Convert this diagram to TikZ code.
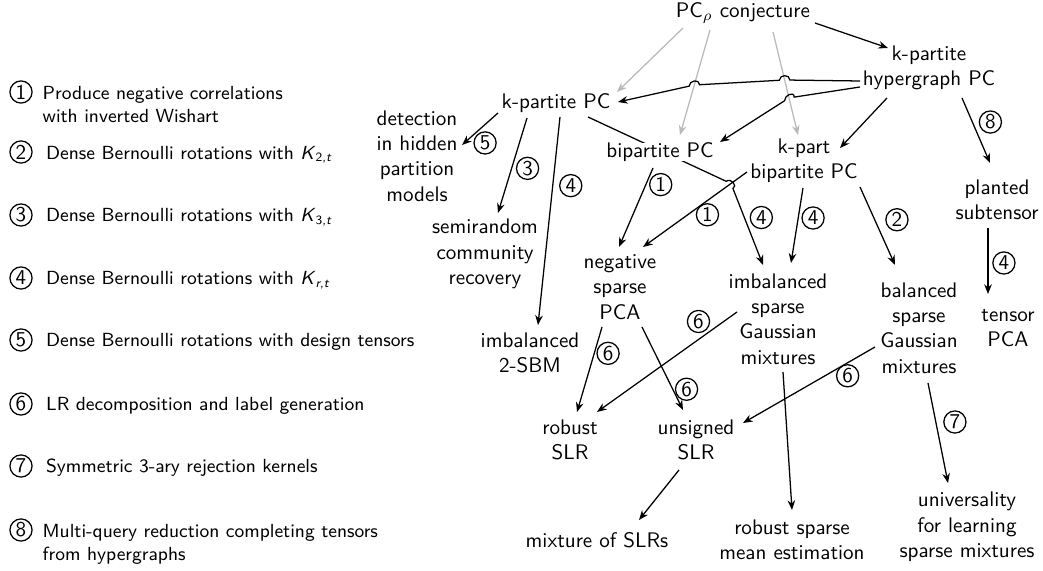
\documentclass[tikz,border=0pt]{standalone}
\usetikzlibrary{positioning,arrows.meta,calc,backgrounds}
\tikzset{
  prob/.style={align=center, font=\sffamily, inner sep=1pt},
  num/.style={circle, draw, semithick, inner sep=0.3pt, minimum size=10.5pt, font=\sffamily},
  leg/.style={align=left, font=\sffamily\small, inner sep=0pt},
  edge/.style={-{Stealth[length=4.6pt, width=3.6pt]}, semithick},
  gedge/.style={edge, gray!55}
}
\newcommand{\Kst}[1]{\textit{K}\textsubscript{#1,\textit{t}}}
\begin{document}
\begin{tikzpicture}[x=0.01667cm, y=-0.01667cm]
\useasboundingbox (0,0) rectangle (1043,571);

% legend
\node[num] (l1) at (21,92) {1};
\node[leg, anchor=north west] (t1) at ($(l1.north east)+(13,2)$) {Produce negative correlations\\with inverted Wishart};
\node[num] (l2) at (21,152) {2};
\node[leg, anchor=base west] (t2) at ($(l2.base east)+(13,0)$) {Dense Bernoulli rotations with \Kst{2}};
\node[num] (l3) at (21,215) {3};
\node[leg, anchor=base west] (t3) at ($(l3.base east)+(13,0)$) {Dense Bernoulli rotations with \Kst{3}};
\node[num] (l4) at (21,278) {4};
\node[leg, anchor=base west] (t4) at ($(l4.base east)+(13,0)$) {Dense Bernoulli rotations with \Kst{\textit{r}}};
\node[num] (l5) at (21,340) {5};
\node[leg, anchor=base west] (t5) at ($(l5.base east)+(13,0)$) {Dense Bernoulli rotations with design tensors};
\node[num] (l6) at (21,404) {6};
\node[leg, anchor=base west] (t6) at ($(l6.base east)+(13,0)$) {LR decomposition and label generation};
\node[num] (l7) at (21,466) {7};
\node[leg, anchor=base west] (t7) at ($(l7.base east)+(13,0)$) {Symmetric 3-ary rejection kernels};
\node[num] (l8) at (21,530) {8};
\node[leg, anchor=north west] (t8) at ($(l8.north east)+(13,2)$) {Multi-query reduction completing tensors\\from hypergraphs};

% problems
\node[prob] (pcrho) at (743,13) {PC$_\rho$ conjecture};
\node[prob] (khyp) at (929,68) {k-partite\\hypergraph PC};
\node[prob] (kpc) at (556,103) {k-partite PC};
\node[prob] (det) at (417,156) {detection\\in hidden\\partition\\models};
\node[prob, fill=white, inner sep=0pt] (bip) at (660,152) {bipartite PC};
\node[prob] (kpbip) at (804,161) {k-part\\bipartite PC};
\node[prob] (plant) at (997,200) {planted\\subtensor};
\node[prob] (semi) at (485,254) {semirandom\\community\\recovery};
\node[prob] (neg) at (620,287) {negative\\sparse\\PCA};
\node[prob] (imb) at (778,319) {imbalanced\\sparse\\Gaussian\\mixtures};
\node[prob] (bal) at (919,328) {balanced\\sparse\\Gaussian\\mixtures};
\node[prob] (tpca) at (1008,328) {tensor\\PCA};
\node[prob] (sbm) at (530,353) {imbalanced\\2-SBM};
\node[prob] (rslr) at (570,440) {robust\\SLR};
\node[prob] (uslr) at (696,440) {unsigned\\SLR};
\node[prob] (mslr) at (597,540) {mixture of SLRs};
\node[prob] (rsme) at (792,540) {robust sparse\\mean estimation};
\node[prob] (univ) at (967,527) {universality\\for learning\\sparse mixtures};

% gray arrows out of the conjecture
\coordinate (g2s) at ($(pcrho)+(-33,17)$);
\coordinate (g2e) at ($(bip)+(20,-17)$);
\coordinate (g3s) at ($(pcrho)+(30,19)$);
\coordinate (g3e) at ($(kpbip)+(-6,-26)$);
\draw[gedge] ($(pcrho)+(-60,15)$) -- ($(kpc)+(61,-11)$);
\draw[gedge] (g2s) -- (g2e);
\draw[gedge] (g3s) -- (g3e);

% hops over the gray arrows
\coordinate (j1) at ($(g3s)!0.466!(g3e)$);
\coordinate (j2) at ($(g2s)!0.524!(g2e)$);
\coordinate (j3) at ($(g3s)!0.64!(g3e)$);
\coordinate (h1) at ($(khyp)+(-69,13)$);
\coordinate (h2) at ($(khyp)+(-69,19)$);
\coordinate (e1) at ($(kpc)+(62,-1)$);
\coordinate (e2) at ($(bip)+(60,-10)$);

\draw[edge] ($(pcrho)+(72,10)$) -- ($(khyp)+(-41,-20)$);
\draw[edge] (h1) -- ($(j1)!2.5pt!(h1)$) .. controls +(0,-6) and +(0,-6) .. ($(j1)!2.5pt!(j2)$)
  -- ($(j2)!2.5pt!(j1)$) .. controls +(0,-6) and +(0,-6) .. ($(j2)!2.5pt!(e1)$) -- (e1);
\draw[edge] (h2) -- ($(j3)!2.5pt!(h2)$) .. controls +(0,-6) and +(0,-6) .. ($(j3)!2.5pt!(e2)$) -- (e2);
\draw[edge] ($(khyp)+(-42,30)$) -- ($(kpbip)+(36,-13)$);
\draw[edge] ($(khyp)+(33,30)$) -- ($(plant)+(-7,-37)$) node[num, pos=0.37, right=3pt] {8};

\draw[edge] ($(kpc)+(-58,10)$) -- ($(det)+(45,-11)$) node[num, pos=0.63, below right=1pt] {5};
\draw[edge] ($(kpc)+(-29,15)$) -- ($(semi)+(13,-41)$) node[num, pos=0.53, right=2pt] {3};
\draw[edge] ($(kpc)+(4,14)$) -- ($(sbm)+(8,-28)$) node[num, pos=0.33, right=3pt] {4};

\coordinate (b1) at ($(kpbip)+(-57,11)$);
\coordinate (n1) at ($(neg)+(23,-40)$);
\coordinate (kb) at ($(b1)!0.154!(n1)$);
\coordinate (k2) at ($(kpc)+(32,14)$);
\coordinate (i2) at ($(imb)+(-15,-54)$);
\begin{pgfonlayer}{background}
\draw[edge] (k2) -- ($(kb)!2.5pt!(k2)$) .. controls +(5,-4) and +(5,-2) .. ($(kb)!2.5pt!(i2)$)
  -- (i2) node[num, pos=0.38, right=2.5pt] {4};
\end{pgfonlayer}
\draw[edge] (b1) -- (n1) node[num, pos=0.46, below right=0pt] {1};
\draw[edge] ($(bip)+(-7,16)$) -- ($(neg)+(-1,-40)$) node[num, pos=0.21, right=1.5pt] {1};
\draw[edge] ($(kpbip)+(-1,27)$) -- ($(imb)+(13,-56)$) node[num, pos=0.4, right=1.5pt] {4};
\draw[edge] ($(kpbip)+(56,26)$) -- ($(bal)+(-24,-63)$) node[num, pos=0.42, right=5pt] {2};
\draw[edge] ($(plant)+(-9,28)$) -- ($(tpca)+(-20,-34)$) node[num, pos=0.53, right=2pt] {4};

\draw[edge] ($(neg)+(-18,40)$) -- ($(rslr)+(7,-28)$) node[num, pos=0.31, right=1pt] {6};
\draw[edge] ($(neg)+(22,40)$) -- ($(uslr)+(-13,-30)$) node[num, pos=0.75, right=1pt] {6};
\draw[edge] ($(imb)+(-41,-7)$) -- ($(rslr)+(27,-28)$) node[num, pos=0.2, above left=1.5pt] {6};
\draw[edge] ($(imb)+(5,53)$) -- ($(rsme)+(0,-30)$);
\draw[edge] ($(bal)+(-44,19)$) -- ($(uslr)+(47,-17)$) node[num, pos=0.27, below right=0pt] {6};
\draw[edge] ($(bal)+(9,55)$) -- ($(univ)+(-19,-44)$) node[num, pos=0.39, right=3.5pt] {7};
\draw[edge] ($(uslr)+(-17,30)$) -- ($(mslr)+(42,-20)$);
\end{tikzpicture}
\end{document}
